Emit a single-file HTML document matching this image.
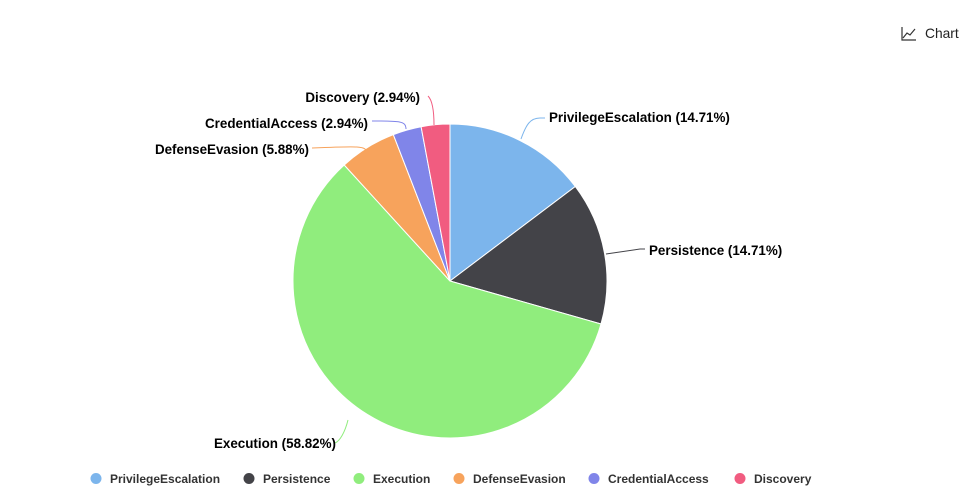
<!DOCTYPE html>
<html><head><meta charset="utf-8"><style>
html,body{margin:0;padding:0;background:#fff;width:963px;height:494px;overflow:hidden}
svg{display:block;font-family:"Liberation Sans","DejaVu Sans",sans-serif}
</style></head><body>
<svg width="963" height="494" viewBox="0 0 963 494">
<g stroke="#fff" stroke-width="1">
<path d="M450,281 L450,124 A157,157 0 0 1 575.3,186.5 Z" fill="#7cb5ec"/>
<path d="M450,281 L575.3,186.5 A157,157 0 0 1 601,324 Z" fill="#434348"/>
<path d="M450,281 L601,324 A157,157 0 1 1 344.2,165 Z" fill="#90ed7d"/>
<path d="M450,281 L344.2,165 A157,157 0 0 1 393.3,134.6 Z" fill="#f7a35c"/>
<path d="M450,281 L393.3,134.6 A157,157 0 0 1 421.1,126.7 Z" fill="#8085e9"/>
<path d="M450,281 L421.1,126.7 A157,157 0 0 1 450,124 Z" fill="#f15c80"/>
</g>
<g fill="none" stroke-width="1">
<path d="M521,139 C526,125 530,118 540,118 L545,118" stroke="#7cb5ec"/>
<path d="M606,254 L640,249 L645,249" stroke="#434348"/>
<path d="M348,420 C345,432 340,441 335,443" stroke="#90ed7d"/>
<path d="M367,152 C365,146 360,146 312,148" stroke="#f7a35c"/>
<path d="M406,129 C406,121 400,121 372,121" stroke="#8085e9"/>
<path d="M434,125 C434,110 432,100 428,96" stroke="#f15c80"/>
</g>
<g font-size="13.4" font-weight="bold" fill="#000">
<text x="549" y="122">PrivilegeEscalation (14.71%)</text>
<text x="649" y="255">Persistence (14.71%)</text>
<text x="336" y="448" text-anchor="end">Execution (58.82%)</text>
<text x="309" y="154" text-anchor="end">DefenseEvasion (5.88%)</text>
<text x="368" y="128" text-anchor="end">CredentialAccess (2.94%)</text>
<text x="420" y="102" text-anchor="end">Discovery (2.94%)</text>
</g>
<g font-size="12" font-weight="bold" fill="#333">
<circle cx="96" cy="478.5" r="5.5" fill="#7cb5ec"/><text x="110" y="483">PrivilegeEscalation</text>
<circle cx="249" cy="478.5" r="5.5" fill="#434348"/><text x="263" y="483">Persistence</text>
<circle cx="359" cy="478.5" r="5.5" fill="#90ed7d"/><text x="373" y="483">Execution</text>
<circle cx="459" cy="478.5" r="5.5" fill="#f7a35c"/><text x="473" y="483">DefenseEvasion</text>
<circle cx="594" cy="478.5" r="5.5" fill="#8085e9"/><text x="608" y="483">CredentialAccess</text>
<circle cx="740" cy="478.5" r="5.5" fill="#f15c80"/><text x="754" y="483">Discovery</text>
</g>
<g fill="none" stroke="#333" stroke-width="1.2">
<path d="M902,27 L902,40 L916,40"/>
<path d="M903,38 L907,33 L910,35 L915,29"/>
</g>
<text x="925" y="38" font-size="13.8" fill="#222">Chart</text>
</svg>
</body></html>
